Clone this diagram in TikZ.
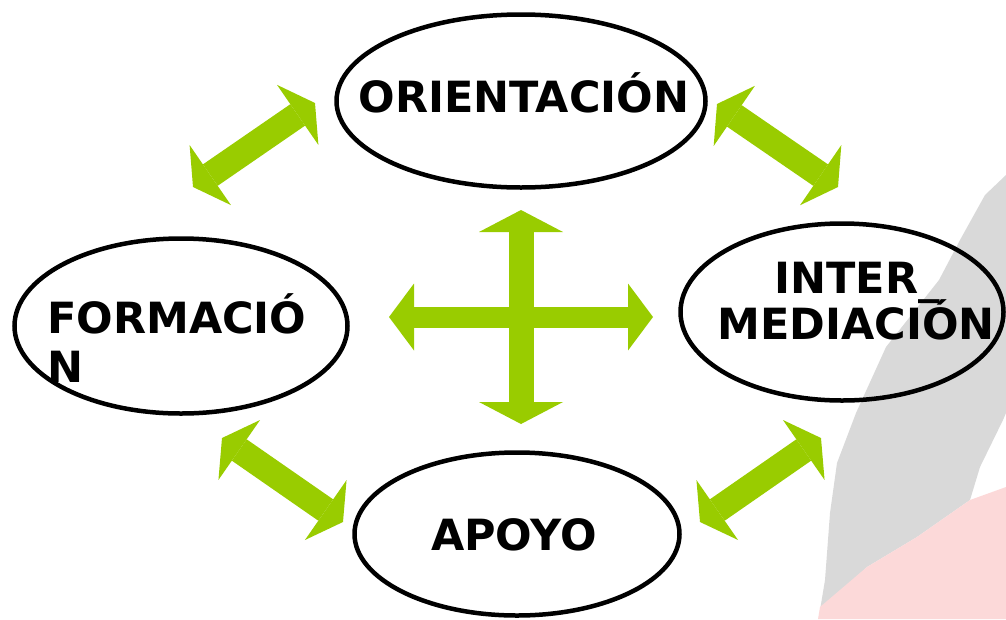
\documentclass[tikz,border=0pt]{standalone}
\usepackage{fontspec}
\setmainfont{DejaVu Sans}
\usepackage{pgf,tikz}
\usetikzlibrary{arrows.meta}
\usetikzlibrary{shapes.geometric}
\definecolor{verde}{RGB}{153,204,0}
\definecolor{gris}{RGB}{217,217,217}
\definecolor{rosa}{RGB}{252,217,217}

\begin{document}
\begin{tikzpicture}[x=1pt,y=-1pt,
  oval/.style={ellipse, draw, line width=4.5pt, inner sep=0pt},
  txt/.style={font=\fontsize{43}{48}\selectfont\bfseries, inner sep=0pt},
  flecha/.style={verde, line width=26pt, {Triangle[length=21pt,width=73pt,line width=0pt]}-{Triangle[length=21pt,width=73pt,line width=0pt]}}]
\useasboundingbox (0,0) rectangle (1006,619);

% fondo
\fill[gris] (1006,175) -- (985,195) -- (960,240) -- (939,280) -- (886,347) -- (856,413) -- (837,463)
  -- (830,513) -- (825,580) -- (820,610) -- (867,567) -- (917,537) -- (970,500) -- (980,467)
  -- (1003,420) -- (1006,413) -- cycle;
\fill[rosa] (818,619) -- (820,607) -- (867,567) -- (917,537) -- (970,500) -- (1006,487) -- (1006,619) -- cycle;

% ovalos
\node[oval, minimum width=369pt, minimum height=173pt] (ori) at (521,101) {};
\node[oval, minimum width=323pt, minimum height=177pt] (inter) at (842,312) {};
\node[oval, minimum width=333pt, minimum height=175pt] (form) at (181,326) {};
\node[oval, minimum width=325pt, minimum height=163pt] (apoyo) at (517,534) {};

\node[txt, anchor=base] (t1) at (524,112) {ORIENTACIÓN};
\node[txt, anchor=base] (t2) at (857,293) {INTER\_};
\node[txt, anchor=base] (t3) at (856,339) {MEDIACIÓN};
\node[txt, anchor=base west] (t4) at (47,333) {FORMACIÓ};
\node[txt, anchor=base west] (t5) at (47,382) {N};
\node[txt, anchor=base] (t6) at (514,550) {APOYO};

% flechas diagonales
\coordinate (tl1) at (193,187); \coordinate (tl2) at (315,103);
\coordinate (tr1) at (717,104); \coordinate (tr2) at (838,187);
\coordinate (bl1) at (222,438); \coordinate (bl2) at (343,522);
\coordinate (br1) at (700,522); \coordinate (br2) at (821,438);
\foreach \a/\b in {tl1/tl2,tr1/tr2,bl1/bl2,br1/br2}{\draw[flecha] (\a) -- (\b);}

% cruz central
\coordinate (arriba) at (521,210); \coordinate (abajo) at (521,424);
\coordinate (izq) at (389,317); \coordinate (der) at (653,317);
\draw[verde, line width=25pt, {Triangle[length=22pt,width=84pt,line width=0pt]}-{Triangle[length=22pt,width=84pt,line width=0pt]}] (arriba) -- (abajo);
\draw[verde, line width=21pt, {Triangle[length=25pt,width=67pt,line width=0pt]}-{Triangle[length=25pt,width=67pt,line width=0pt]}] (izq) -- (der);
\end{tikzpicture}
\end{document}
